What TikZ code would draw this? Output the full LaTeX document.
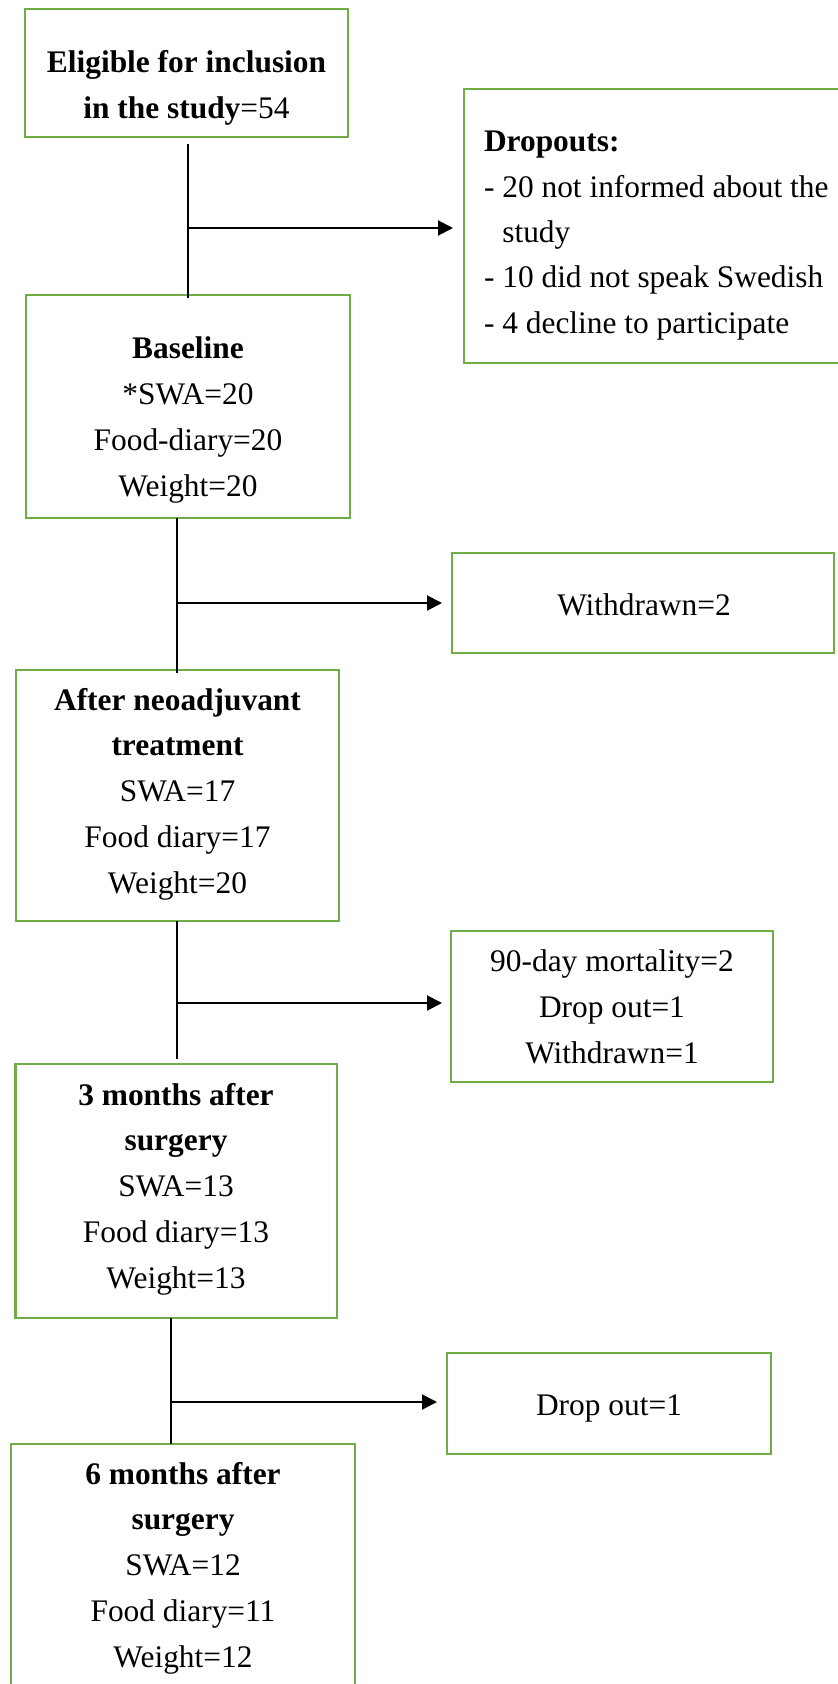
\documentclass[tikz,border=0pt]{standalone}
\usepackage{fontspec}
\setmainfont{Liberation Serif}
\usetikzlibrary{arrows.meta,calc}
\definecolor{boxgreen}{HTML}{70AD47}
\begin{document}
\begin{tikzpicture}[x=1bp,y=-1bp,
  box/.style={draw=boxgreen, line width=2.6bp, rectangle, inner sep=0, outer sep=0, anchor=north west},
  txt/.style={font=\fontsize{31.4bp}{45.7bp}\selectfont, align=center, inner sep=0, outer sep=0, anchor=base},
  ltxt/.style={font=\fontsize{31.4bp}{45.3bp}\selectfont, align=left, inner sep=0, outer sep=0, anchor=base west},
  conn/.style={draw=black, line width=2bp},
  arr/.style={conn, -{Triangle[length=15bp,width=15bp]}}]
\useasboundingbox (0,0) rectangle (838,1684);
\clip (0,0) rectangle (838,1684);
% boxes
\node[box, minimum width=323bp, minimum height=128bp] (b1) at (25,9) {};
\node[box, minimum width=390bp, minimum height=274bp] (d1) at (464,89) {};
\node[box, minimum width=324bp, minimum height=223bp] (b2) at (26,295) {};
\node[box, minimum width=382bp, minimum height=100bp] (b3) at (452,553) {};
\node[box, minimum width=323bp, minimum height=251bp] (b4) at (16,670) {};
\node[box, minimum width=322bp, minimum height=151bp] (b5) at (451,931) {};
\node[box, minimum width=321.5bp, minimum height=254bp] (b6) at (15.5,1064) {};
\node[box, minimum width=324bp, minimum height=101bp] (b7) at (447,1353) {};
\node[box, minimum width=344bp, minimum height=270bp] (b8) at (11,1444) {};
% texts (anchored at the baseline of the last line)
\node[txt] (t1) at (186.5,118) {\textbf{Eligible for inclusion}\\\textbf{in the study}=54};
\node[ltxt] (td) at (484,333) {\textbf{Dropouts:}\\- 20 not informed about the\\\phantom{- }study\\- 10 did not speak Swedish\\- 4 decline to participate};
\node[txt] (t2) at (188,496) {\textbf{Baseline}\\*SWA=20\\Food-diary=20\\Weight=20};
\node[txt] (t3) at (644,615) {Withdrawn=2};
\node[txt] (t4) at (177.5,893) {\textbf{After neoadjuvant}\\\textbf{treatment}\\SWA=17\\Food diary=17\\Weight=20};
\node[txt] (t5) at (612,1063) {90-day mortality=2\\Drop out=1\\Withdrawn=1};
\node[txt] (t6) at (176,1288) {\textbf{3 months after}\\\textbf{surgery}\\SWA=13\\Food diary=13\\Weight=13};
\node[txt] (t7) at (609,1415) {Drop out=1};
\node[txt] (t8) at (183,1667) {\textbf{6 months after}\\\textbf{surgery}\\SWA=12\\Food diary=11\\Weight=12};
% junctions
\coordinate (j1) at (188,228);
\coordinate (j2) at (177,603);
\coordinate (j3) at (177,1003);
\coordinate (j4) at (171,1402);
% connectors
\draw[conn] ($(b1.south -| j1)+(0,7)$) -- ($(b2.north -| j1)+(0,3)$);
\draw[arr, shorten >=11bp] (j1) -- (j1 -| d1.west);
\draw[conn] (b2.south -| j2) -- ($(b4.north -| j2)+(0,3)$);
\draw[arr, shorten >=10bp] (j2) -- (j2 -| b3.west);
\draw[conn] (b4.south -| j3) -- ($(b6.north -| j3)+(0,-5)$);
\draw[arr, shorten >=9bp] (j3) -- (j3 -| b5.west);
\draw[conn] (b6.south -| j4) -- (b8.north -| j4);
\draw[arr, shorten >=10bp] (j4) -- (j4 -| b7.west);
\end{tikzpicture}
\end{document}
